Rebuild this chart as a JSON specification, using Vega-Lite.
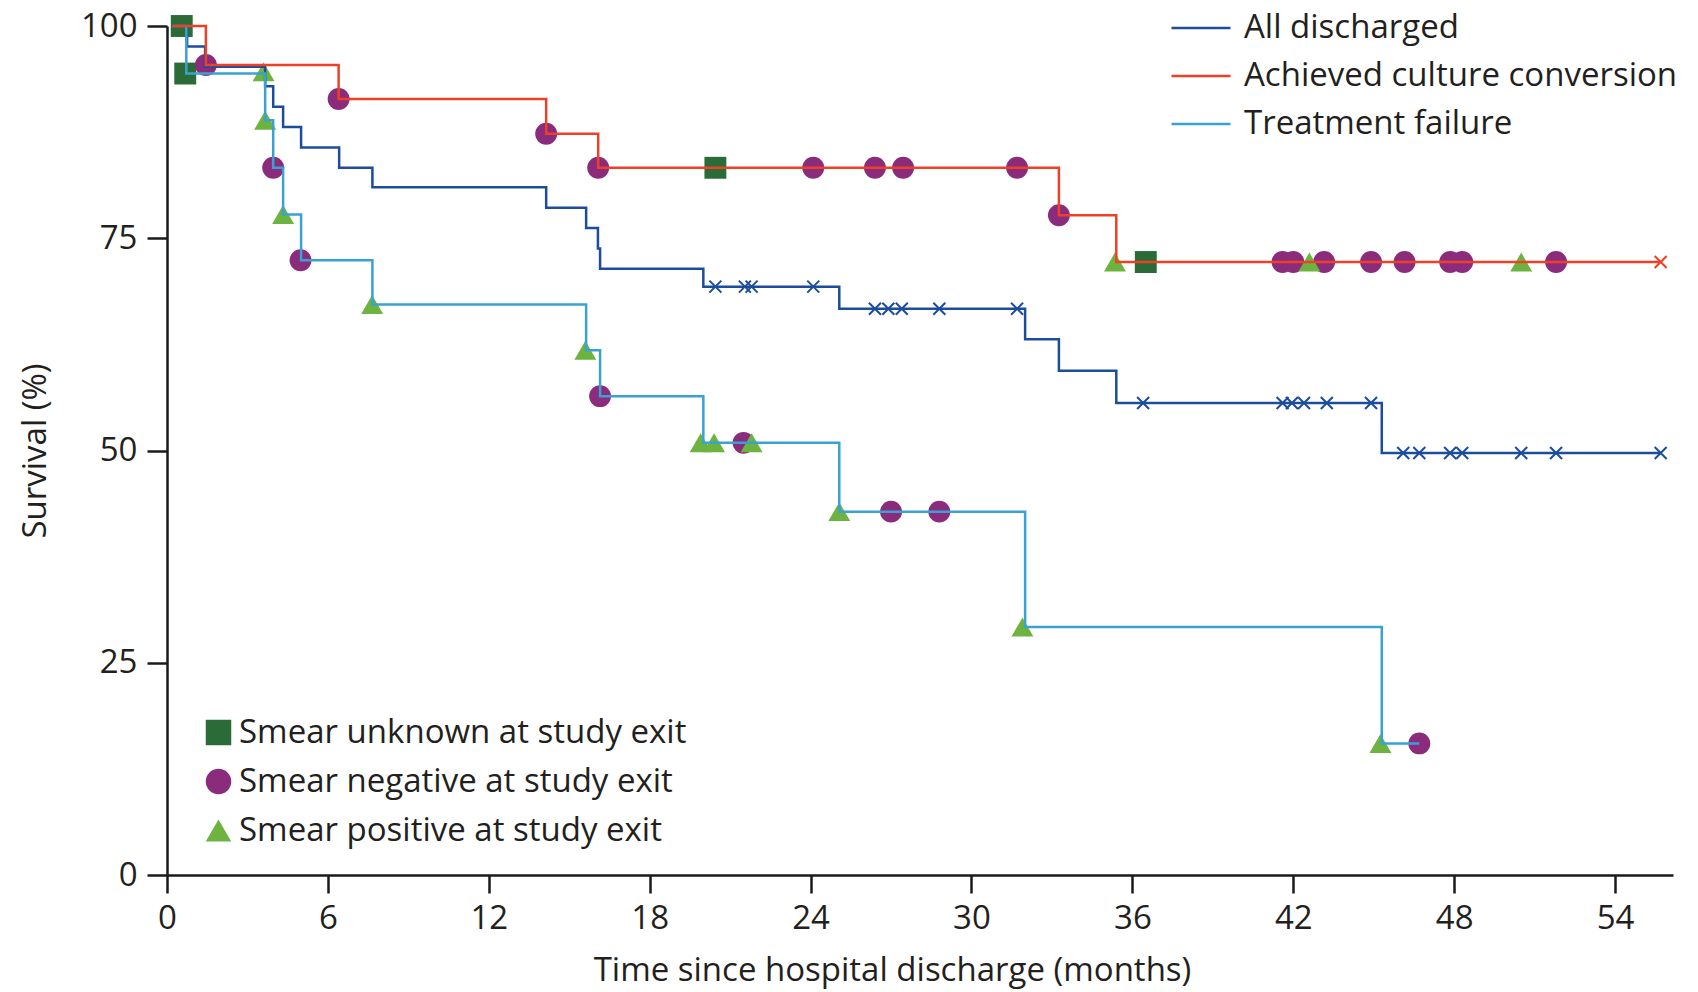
{
  "$schema": "https://vega.github.io/schema/vega-lite/v6.json",
  "width": 1506,
  "height": 849,
  "autosize": {"type": "none"},
  "padding": {"left": 167, "top": 26, "right": 25, "bottom": 117},
  "background": "white",
  "config": {
    "view": {"stroke": null},
    "font": "Open Sans",
    "axis": {
      "grid": false,
      "domainColor": "#1a1a1a",
      "domainWidth": 2.5,
      "tickColor": "#1a1a1a",
      "tickWidth": 2.5,
      "labelFont": "Open Sans",
      "labelFontSize": 33,
      "labelColor": "#231f20",
      "labelFlush": false,
      "labelOverlap": false,
      "titleFont": "Open Sans",
      "titleFontSize": 33,
      "titleFontWeight": "normal",
      "titleColor": "#231f20"
    },
    "legend": {
      "labelFont": "Open Sans",
      "labelFontSize": 33,
      "labelColor": "#231f20",
      "padding": 0,
      "titlePadding": 0,
      "labelLimit": 0
    }
  },
  "datasets": {
    "curves": [
      {"series": "All discharged", "t": 0.2, "s": 100},
      {"series": "All discharged", "t": 0.75, "s": 97.6},
      {"series": "All discharged", "t": 1.42, "s": 95.2},
      {"series": "All discharged", "t": 3.66, "s": 92.9},
      {"series": "All discharged", "t": 3.96, "s": 90.5},
      {"series": "All discharged", "t": 4.33, "s": 88.1},
      {"series": "All discharged", "t": 5.0, "s": 85.7},
      {"series": "All discharged", "t": 6.42, "s": 83.3},
      {"series": "All discharged", "t": 7.66, "s": 81.0},
      {"series": "All discharged", "t": 14.14, "s": 78.6},
      {"series": "All discharged", "t": 15.63, "s": 76.2},
      {"series": "All discharged", "t": 16.07, "s": 73.8},
      {"series": "All discharged", "t": 16.15, "s": 71.4},
      {"series": "All discharged", "t": 20.0, "s": 69.3},
      {"series": "All discharged", "t": 25.07, "s": 66.7},
      {"series": "All discharged", "t": 32.0, "s": 63.1},
      {"series": "All discharged", "t": 33.26, "s": 59.4},
      {"series": "All discharged", "t": 35.4, "s": 55.6},
      {"series": "All discharged", "t": 45.3, "s": 49.7},
      {"series": "All discharged", "t": 55.7, "s": 49.7},
      {"series": "Treatment failure", "t": 0.2, "s": 100},
      {"series": "Treatment failure", "t": 0.72, "s": 94.4},
      {"series": "Treatment failure", "t": 3.66, "s": 88.9},
      {"series": "Treatment failure", "t": 3.96, "s": 83.3},
      {"series": "Treatment failure", "t": 4.33, "s": 77.8},
      {"series": "Treatment failure", "t": 5.0, "s": 72.4},
      {"series": "Treatment failure", "t": 7.66, "s": 67.2},
      {"series": "Treatment failure", "t": 15.63, "s": 61.8},
      {"series": "Treatment failure", "t": 16.15, "s": 56.4},
      {"series": "Treatment failure", "t": 20.0, "s": 50.9},
      {"series": "Treatment failure", "t": 25.07, "s": 42.8},
      {"series": "Treatment failure", "t": 32.0, "s": 29.2},
      {"series": "Treatment failure", "t": 45.3, "s": 15.5},
      {"series": "Treatment failure", "t": 46.7, "s": 15.5},
      {"series": "Achieved culture conversion", "t": 0.2, "s": 100},
      {"series": "Achieved culture conversion", "t": 1.45, "s": 95.4},
      {"series": "Achieved culture conversion", "t": 6.4, "s": 91.4},
      {"series": "Achieved culture conversion", "t": 14.14, "s": 87.3},
      {"series": "Achieved culture conversion", "t": 16.08, "s": 83.3},
      {"series": "Achieved culture conversion", "t": 33.26, "s": 77.7},
      {"series": "Achieved culture conversion", "t": 35.4, "s": 72.2},
      {"series": "Achieved culture conversion", "t": 55.7, "s": 72.2}
    ],
    "markers": [
      {"smear": "Smear unknown at study exit", "t": 0.55, "s": 100},
      {"smear": "Smear unknown at study exit", "t": 0.68, "s": 94.4},
      {"smear": "Smear unknown at study exit", "t": 20.45, "s": 83.3},
      {"smear": "Smear unknown at study exit", "t": 36.5, "s": 72.2},
      {"smear": "Smear negative at study exit", "t": 1.45, "s": 95.4},
      {"smear": "Smear negative at study exit", "t": 6.4, "s": 91.4},
      {"smear": "Smear negative at study exit", "t": 14.14, "s": 87.3},
      {"smear": "Smear negative at study exit", "t": 16.08, "s": 83.3},
      {"smear": "Smear negative at study exit", "t": 24.1, "s": 83.3},
      {"smear": "Smear negative at study exit", "t": 26.4, "s": 83.3},
      {"smear": "Smear negative at study exit", "t": 27.45, "s": 83.3},
      {"smear": "Smear negative at study exit", "t": 31.7, "s": 83.3},
      {"smear": "Smear negative at study exit", "t": 33.26, "s": 77.7},
      {"smear": "Smear negative at study exit", "t": 41.6, "s": 72.2},
      {"smear": "Smear negative at study exit", "t": 42.0, "s": 72.2},
      {"smear": "Smear negative at study exit", "t": 43.15, "s": 72.2},
      {"smear": "Smear negative at study exit", "t": 44.9, "s": 72.2},
      {"smear": "Smear negative at study exit", "t": 46.15, "s": 72.2},
      {"smear": "Smear negative at study exit", "t": 47.85, "s": 72.2},
      {"smear": "Smear negative at study exit", "t": 48.3, "s": 72.2},
      {"smear": "Smear negative at study exit", "t": 51.8, "s": 72.2},
      {"smear": "Smear negative at study exit", "t": 3.96, "s": 83.3},
      {"smear": "Smear negative at study exit", "t": 4.98, "s": 72.4},
      {"smear": "Smear negative at study exit", "t": 16.15, "s": 56.4},
      {"smear": "Smear negative at study exit", "t": 21.5, "s": 50.9},
      {"smear": "Smear negative at study exit", "t": 27.0, "s": 42.8},
      {"smear": "Smear negative at study exit", "t": 28.8, "s": 42.8},
      {"smear": "Smear negative at study exit", "t": 46.7, "s": 15.5},
      {"smear": "Smear positive at study exit", "t": 3.6, "s": 94.6},
      {"smear": "Smear positive at study exit", "t": 3.66, "s": 88.9},
      {"smear": "Smear positive at study exit", "t": 4.33, "s": 77.8},
      {"smear": "Smear positive at study exit", "t": 7.65, "s": 67.2},
      {"smear": "Smear positive at study exit", "t": 15.6, "s": 61.8},
      {"smear": "Smear positive at study exit", "t": 19.9, "s": 50.9},
      {"smear": "Smear positive at study exit", "t": 20.4, "s": 50.9},
      {"smear": "Smear positive at study exit", "t": 21.8, "s": 50.9},
      {"smear": "Smear positive at study exit", "t": 25.07, "s": 42.8},
      {"smear": "Smear positive at study exit", "t": 31.9, "s": 29.2},
      {"smear": "Smear positive at study exit", "t": 45.25, "s": 15.5},
      {"smear": "Smear positive at study exit", "t": 35.35, "s": 72.2},
      {"smear": "Smear positive at study exit", "t": 42.6, "s": 72.2},
      {"smear": "Smear positive at study exit", "t": 50.5, "s": 72.2}
    ],
    "crosses": [
      {"series": "All discharged", "t": 20.45, "s": 69.3},
      {"series": "All discharged", "t": 21.55, "s": 69.3},
      {"series": "All discharged", "t": 21.8, "s": 69.3},
      {"series": "All discharged", "t": 24.1, "s": 69.3},
      {"series": "All discharged", "t": 26.4, "s": 66.7},
      {"series": "All discharged", "t": 26.9, "s": 66.7},
      {"series": "All discharged", "t": 27.4, "s": 66.7},
      {"series": "All discharged", "t": 28.8, "s": 66.7},
      {"series": "All discharged", "t": 31.7, "s": 66.7},
      {"series": "All discharged", "t": 36.4, "s": 55.6},
      {"series": "All discharged", "t": 41.6, "s": 55.6},
      {"series": "All discharged", "t": 41.95, "s": 55.6},
      {"series": "All discharged", "t": 42.4, "s": 55.6},
      {"series": "All discharged", "t": 43.25, "s": 55.6},
      {"series": "All discharged", "t": 44.9, "s": 55.6},
      {"series": "All discharged", "t": 46.1, "s": 49.7},
      {"series": "All discharged", "t": 46.7, "s": 49.7},
      {"series": "All discharged", "t": 47.85, "s": 49.7},
      {"series": "All discharged", "t": 48.3, "s": 49.7},
      {"series": "All discharged", "t": 50.5, "s": 49.7},
      {"series": "All discharged", "t": 51.8, "s": 49.7},
      {"series": "All discharged", "t": 55.7, "s": 49.7},
      {"series": "Achieved culture conversion", "t": 55.7, "s": 72.2}
    ]
  },
  "encoding": {
    "x": {
      "field": "t",
      "type": "quantitative",
      "scale": {"domain": [0, 56.16], "nice": false, "zero": false},
      "axis": {
        "values": [0, 6, 12, 18, 24, 30, 36, 42, 48, 54],
        "title": "Time since hospital discharge (months)",
        "tickSize": 18,
        "labelPadding": 9,
        "titleX": 725,
        "titleY": 105,
        "titleAlign": "center",
        "titleBaseline": "alphabetic"
      }
    },
    "y": {
      "field": "s",
      "type": "quantitative",
      "scale": {"domain": [0, 100], "nice": false},
      "axis": {
        "values": [0, 25, 50, 75, 100],
        "title": "Survival (%)",
        "tickSize": 20,
        "labelPadding": 10,
        "titleX": -132,
        "titleY": 424.5,
        "titleAngle": -90,
        "titleAlign": "center",
        "titleBaseline": "middle"
      }
    }
  },
  "layer": [
    {
      "data": {"name": "markers"},
      "mark": {"type": "point", "filled": true, "size": 480, "opacity": 1, "strokeWidth": 0},
      "encoding": {
        "shape": {
          "field": "smear",
          "type": "nominal",
          "scale": {
            "domain": ["Smear unknown at study exit", "Smear negative at study exit", "Smear positive at study exit"],
            "range": ["square", "circle", "triangle-up"]
          },
          "legend": {"orient": "none", "legendX": 35, "legendY": 690, "title": null, "symbolSize": 650, "labelOffset": 4, "rowPadding": 15, "symbolStrokeWidth": 0, "symbolOpacity": 1}
        },
        "color": {
          "field": "smear",
          "type": "nominal",
          "scale": {
            "domain": ["Smear unknown at study exit", "Smear negative at study exit", "Smear positive at study exit"],
            "range": ["#2a6b38", "#8b2b7c", "#6cb33f"]
          },
          "legend": {"orient": "none", "legendX": 35, "legendY": 690, "title": null, "symbolSize": 650, "labelOffset": 4, "rowPadding": 15, "symbolStrokeWidth": 0, "symbolOpacity": 1}
        }
      }
    },
    {
      "data": {"name": "curves"},
      "mark": {"type": "line", "interpolate": "step-after", "strokeWidth": 2.5},
      "encoding": {
        "stroke": {
          "field": "series",
          "type": "nominal",
          "scale": {
            "domain": ["All discharged", "Achieved culture conversion", "Treatment failure"],
            "range": ["#1c4d9c", "#ee4027", "#3aa2d2"]
          },
          "legend": {"orient": "none", "legendX": 1003, "legendY": -29, "title": null, "symbolType": "stroke", "symbolSize": 3481, "symbolStrokeWidth": 2.5, "labelOffset": 12, "rowPadding": 0}
        }
      }
    },
    {
      "data": {"name": "crosses"},
      "mark": {"type": "point", "shape": "M-1,-1L1,1M-1,1L1,-1", "size": 144, "strokeWidth": 2, "filled": false, "opacity": 1},
      "encoding": {
        "stroke": {
          "condition": {"test": "datum.series === 'Achieved culture conversion'", "value": "#ee4027"},
          "value": "#1c4d9c"
        }
      }
    }
  ]
}
